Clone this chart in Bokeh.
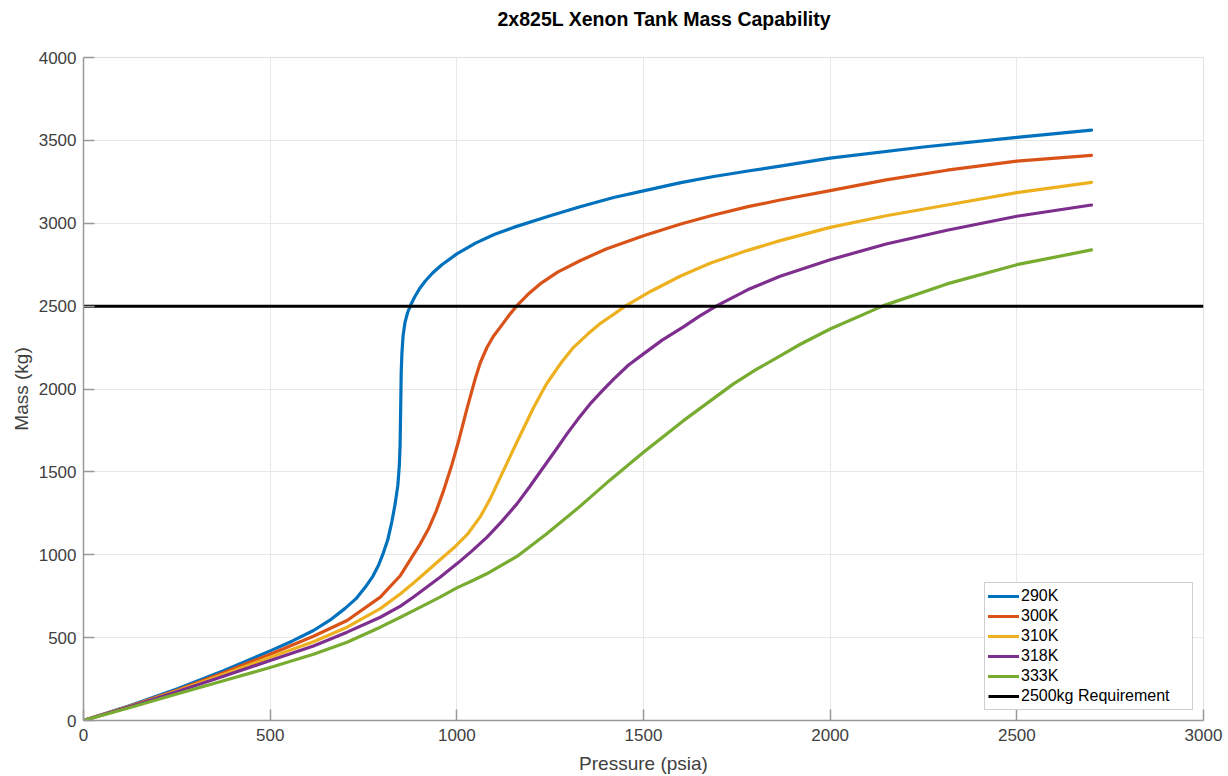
from bokeh.plotting import figure
from bokeh.models import Range1d, FixedTicker, Legend, Title
from bokeh.embed import file_html
from bokeh.resources import INLINE

# ---- data ----
p290 = [0, 125, 250, 375, 500, 560, 616, 660, 700, 730, 755, 775, 790, 803, 815, 826, 835, 842, 846, 848, 849, 850, 851, 853, 856, 861, 868, 876, 887, 900, 915, 935, 960, 1000, 1050, 1100, 1152, 1250, 1330, 1420, 1500, 1600, 1688, 1780, 1866, 2000, 2250, 2500, 2700]
m290 = [0, 90, 190, 300, 420, 480, 543, 605, 675, 735, 805, 870, 935, 1010, 1090, 1200, 1310, 1420, 1540, 1660, 1800, 1950, 2100, 2220, 2320, 2400, 2460, 2505, 2555, 2605, 2650, 2700, 2750, 2815, 2880, 2932, 2975, 3045, 3100, 3155, 3195, 3245, 3282, 3315, 3345, 3393, 3460, 3518, 3562]

p300 = [0, 125, 250, 375, 500, 616, 706, 795, 849, 902, 925, 945, 965, 987, 1004, 1027, 1049, 1063, 1081, 1098, 1116, 1140, 1161, 1190, 1223, 1270, 1330, 1400, 1500, 1600, 1688, 1780, 1866, 2000, 2150, 2313, 2500, 2700]
m300 = [0, 88, 183, 288, 400, 508, 603, 744, 875, 1066, 1160, 1265, 1390, 1545, 1680, 1880, 2060, 2160, 2252, 2318, 2372, 2445, 2503, 2570, 2634, 2705, 2774, 2845, 2925, 2995, 3050, 3100, 3140, 3197, 3262, 3320, 3375, 3410]

p310 = [0, 125, 250, 375, 500, 616, 706, 795, 849, 884, 920, 955, 996, 1030, 1063, 1090, 1116, 1140, 1161, 1205, 1240, 1280, 1312, 1350, 1384, 1420, 1451, 1520, 1598, 1680, 1777, 1866, 2000, 2150, 2313, 2500, 2700]
m310 = [0, 86, 178, 278, 382, 475, 563, 675, 765, 830, 900, 970, 1050, 1128, 1230, 1340, 1465, 1580, 1680, 1885, 2030, 2160, 2250, 2330, 2395, 2450, 2500, 2590, 2680, 2760, 2835, 2895, 2975, 3045, 3110, 3185, 3247]

p318 = [0, 125, 250, 375, 500, 616, 706, 795, 849, 884, 955, 1000, 1040, 1081, 1120, 1161, 1195, 1232, 1265, 1295, 1325, 1357, 1390, 1420, 1460, 1500, 1550, 1607, 1650, 1697, 1780, 1866, 2000, 2150, 2313, 2500, 2700]
m318 = [0, 84, 173, 267, 362, 450, 533, 623, 690, 745, 864, 945, 1022, 1106, 1200, 1307, 1410, 1528, 1632, 1729, 1820, 1910, 1990, 2060, 2145, 2212, 2295, 2375, 2440, 2503, 2600, 2680, 2780, 2875, 2958, 3042, 3110]

p333 = [0, 125, 250, 375, 500, 616, 706, 795, 849, 884, 955, 1000, 1040, 1080, 1161, 1240, 1322, 1410, 1500, 1607, 1741, 1800, 1866, 1920, 2000, 2143, 2313, 2500, 2700]
m333 = [0, 78, 160, 240, 320, 400, 472, 563, 623, 663, 744, 800, 842, 885, 990, 1125, 1277, 1450, 1618, 1809, 2031, 2115, 2200, 2270, 2362, 2503, 2634, 2750, 2839]

req_x = [0, 3000]
req_y = [2500, 2500]

title_text = "2x825L Xenon Tank Mass Capability"
labels = ["290K", "300K", "310K", "318K", "333K"]
colors = ["#0072BD", "#D95319", "#EDB120", "#7E2F8E", "#77AC30"]
x_ticks = [0, 500, 1000, 1500, 2000, 2500, 3000]
y_ticks = [0, 500, 1000, 1500, 2000, 2500, 3000, 3500, 4000]

FONT = "Liberation Sans"

p = figure(width=1228, height=776, output_backend="svg", toolbar_location=None,
           x_range=Range1d(0, 3000), y_range=Range1d(0, 4000),
           min_border_left=83, min_border_right=25, min_border_top=57, min_border_bottom=56)

# spacer (closest to the frame), then the real title above it
spacer = Title(text=" ", text_font_size="2px", standoff=22)
p.add_layout(spacer, "above")
main_title = Title(text=title_text, align="left", offset=414, vertical_align="top", standoff=0,
                   text_font=FONT, text_font_size="19.5px", text_font_style="bold",
                   text_color="#000000")
p.add_layout(main_title, "above")

p.background_fill_color = "white"
p.border_fill_color = "white"
p.outline_line_color = "#e0e0e0"
p.outline_line_width = 1

for ax in (p.xaxis[0], p.yaxis[0]):
    ax.axis_line_color = "#999999"
    ax.axis_line_width = 1.5
    ax.major_tick_line_color = "#999999"
    ax.major_tick_line_width = 1.5
    ax.major_tick_in = 11
    ax.major_tick_out = 0
    ax.minor_tick_line_color = None
    ax.major_label_text_font = FONT
    ax.major_label_text_font_size = "17px"
    ax.major_label_text_color = "#404040"
    ax.axis_label_text_font = FONT
    ax.axis_label_text_font_size = "19px"
    ax.axis_label_text_font_style = "normal"
    ax.axis_label_text_color = "#404040"

p.xaxis.ticker = FixedTicker(ticks=x_ticks)
p.yaxis.ticker = FixedTicker(ticks=y_ticks)
p.xaxis.axis_label = "Pressure (psia)"
p.yaxis.axis_label = "Mass (kg)"
p.xaxis.major_label_standoff = 8
p.yaxis.major_label_standoff = 7
p.xaxis.axis_label_standoff = 9
p.yaxis.axis_label_standoff = 4

p.xgrid.grid_line_color = "#e8e8e8"
p.ygrid.grid_line_color = "#e8e8e8"
p.xgrid.ticker = FixedTicker(ticks=x_ticks)
p.ygrid.ticker = FixedTicker(ticks=y_ticks)

series = [(p290, m290), (p300, m300), (p310, m310), (p318, m318), (p333, m333)]
items = []
for (xs, ys), lab, col in zip(series, labels, colors):
    r = p.line(xs, ys, line_color=col, line_width=3.2, line_join="round", line_cap="round")
    items.append((lab, [r]))
rr = p.line(req_x, req_y, line_color="black", line_width=3)
items.append(("2500kg Requirement", [rr]))

legend = Legend(items=items, location="bottom_right")
legend.label_text_font = FONT
legend.label_text_font_size = "16px"
legend.label_text_color = "#000000"
legend.glyph_width = 31
legend.glyph_height = 20
legend.label_height = 20
legend.label_width = 168
legend.label_standoff = 2
legend.spacing = 0
legend.padding = 3
legend.margin = 10
legend.border_line_color = "#a0a0a0"
legend.border_line_width = 1
legend.background_fill_color = "white"
legend.background_fill_alpha = 1.0
p.add_layout(legend, "center")

open("out.html", "w").write(file_html(p, INLINE))
